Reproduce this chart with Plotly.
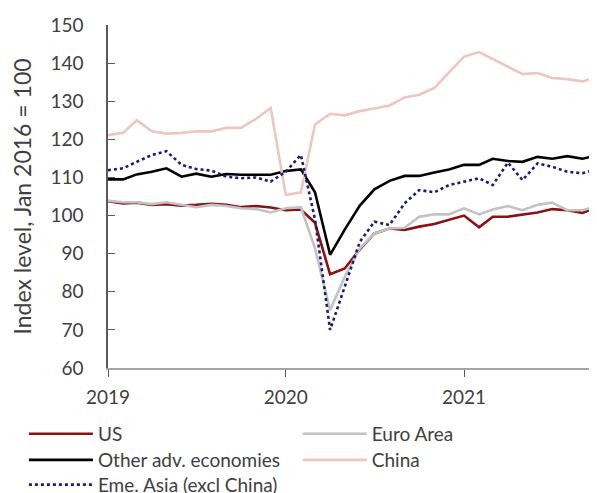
import pandas as pd
import plotly.graph_objects as go

months = pd.date_range("2019-01-01", "2021-10-01", freq="MS")

us = [103.8, 103.2, 103.4, 102.8, 103.0, 102.6, 102.8, 103.1, 102.8, 102.2, 102.5, 102.1,
      101.4, 101.6, 98.1, 84.6, 86.1, 91.1, 95.3, 96.6, 96.2, 97.1, 97.8, 98.8,
      100.0, 96.9, 99.7, 99.7, 100.3, 100.8, 101.7, 101.4, 100.7, 102.1]
euro_area = [103.9, 103.5, 103.5, 103.0, 103.5, 102.8, 102.2, 102.8, 102.5, 101.9, 101.7, 100.8,
             101.9, 102.2, 91.4, 75.2, 83.9, 91.4, 95.3, 96.6, 96.8, 99.7, 100.3, 100.3,
             101.9, 100.3, 101.6, 102.5, 101.4, 102.8, 103.4, 101.4, 101.4, 102.5]
other_adv = [109.5, 109.5, 110.8, 111.5, 112.4, 110.2, 111.0, 110.2, 110.9, 110.7, 110.7, 110.7,
             111.7, 112.1, 106.1, 89.7, 96.3, 102.6, 106.9, 109.1, 110.4, 110.4, 111.3, 112.1,
             113.3, 113.3, 114.9, 114.3, 114.1, 115.4, 114.9, 115.6, 114.9, 115.8]
china = [121.1, 121.7, 125.0, 122.1, 121.5, 121.7, 122.1, 122.1, 123.0, 123.0, 125.4, 128.2,
         105.4, 106.1, 123.9, 126.7, 126.3, 127.4, 128.1, 128.9, 131.0, 131.7, 133.5, 137.6,
         141.7, 142.9, 141.1, 139.1, 137.1, 137.4, 136.1, 135.8, 135.2, 136.3]
eme_asia = [111.9, 112.4, 114.1, 115.9, 116.9, 113.3, 112.2, 111.8, 110.2, 109.8, 110.0, 108.9,
            111.5, 115.9, 99.0, 70.0, 81.3, 93.1, 98.4, 97.5, 103.2, 106.7, 106.1, 108.0,
            108.9, 109.8, 108.0, 113.9, 109.3, 113.7, 112.8, 111.5, 111.1, 112.2]

# name, values, colour, dash, legend (column x, row y in container units)
series = [
    ("US", us, "#8b1214", "solid", 0.027, 0.122),
    ("Euro Area", euro_area, "#c3c3c3", "solid", 0.492, 0.122),
    ("Other adv. economies", other_adv, "#000000", "solid", 0.027, 0.068),
    ("China", china, "#eec6c0", "solid", 0.492, 0.068),
    ("Eme. Asia (excl China)", eme_asia, "#1c1c78", "dot", 0.027, 0.017),
]

fig = go.Figure()
legends = {}
for i, (name, vals, color, dash, lx, ly) in enumerate(series):
    leg = "legend" if i == 0 else "legend%d" % (i + 1)
    fig.add_trace(go.Scatter(
        x = months, y = vals, name = name, mode = "lines", legend = leg,
        showlegend = True,
        line = dict(color = color, width = 2.6, dash = dash)
    ))
    # one small legend per entry so each sits where the original has it
    legends[leg] = dict(
        orientation = "h", x = lx, y = ly, xanchor = "left", yanchor = "middle",
        xref = "container", yref = "container", itemwidth = 64,
        font = dict(size = 19), bgcolor = "rgba(0,0,0,0)"
    )

fig.update_layout(
    width = 589, height = 485,
    margin = dict(l = 100, r = 0, t = 17, b = 125),
    plot_bgcolor = "white",
    paper_bgcolor = "white",
    showlegend = True,
    font = dict(family = "Lato", size = 19, color = "#404040"),
    **legends
)
fig.update_xaxes(
    range = ["2019-01-01", "2021-10-01"],
    dtick = "M12", tick0 = "2019-01-01", tickformat = "%Y",
    ticks = "outside", ticklen = 7, tickcolor = "#595959", ticklabelstandoff = 4,
    showline = True, linecolor = "#a6a6a6", linewidth = 2,
    showgrid = False, zeroline = False, automargin = False
)
fig.update_yaxes(
    range = [60, 150], dtick = 10,
    title = dict(text = "Index level, Jan 2016 = 100", standoff = 25),
    ticks = "inside", ticklen = 7, tickcolor = "#595959", ticklabelstandoff = 19,
    showline = True, linecolor = "#595959", linewidth = 1.5,
    showgrid = False, zeroline = False
)

fig.write_html("out.html")
